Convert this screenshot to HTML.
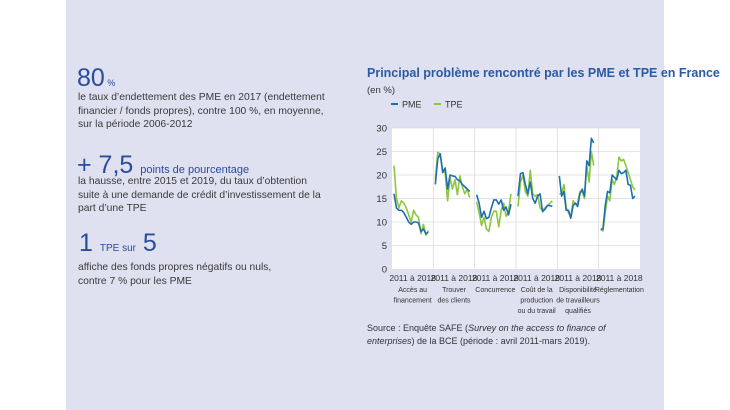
<!DOCTYPE html>
<html><head><meta charset="utf-8">
<style>
html,body{margin:0;padding:0;background:#fff;}
body{width:730px;height:410px;position:relative;overflow:hidden;font-family:"Liberation Sans Narrow","Liberation Sans",sans-serif;}
#panel{position:absolute;left:66px;top:0;width:598px;height:410px;background:#dfe0f0;}
.big{position:absolute;color:#2b4b9b;font-family:"Liberation Sans Narrow","Liberation Sans",sans-serif;white-space:nowrap;}
.body{position:absolute;left:78px;color:#3a3a3a;font-family:"Liberation Sans",sans-serif;font-size:10.3px;line-height:13.6px;white-space:nowrap;}
svg{position:absolute;left:0;top:0;}
</style></head><body>
<div id="panel"></div>
<div class="big" style="left:77px;top:64px;font-size:25px;">80<span style="font-size:9px"> %</span></div>
<div class="body" style="top:91px">le taux d’endettement des PME en 2017 (endettement<br>financier / fonds propres), contre 100 %, en moyenne,<br>sur la période 2006-2012</div>
<div class="big" style="left:77px;top:151px;font-size:25px;">+ 7,5 <span style="font-size:11px">points de pourcentage</span></div>
<div class="body" style="top:175px">la hausse, entre 2015 et 2019, du taux d’obtention<br>suite à une demande de crédit d’investissement de la<br>part d’une TPE</div>
<div class="big" style="left:79px;top:229px;font-size:25px;">1 <span style="font-size:10px">TPE sur</span> 5</div>
<div class="body" style="top:261px">affiche des fonds propres négatifs ou nuls,<br>contre 7 % pour les PME</div>

<svg id="chart" width="730" height="410">
<text x="367" y="77" font-size="12.5" fill="#2b5aa6" font-weight="bold" font-family="Liberation Sans Narrow, Liberation Sans, sans-serif">Principal problème rencontré par les PME et TPE en France</text>
<text x="367" y="93" font-size="9.5" fill="#333">(en %)</text>
<line x1="391" y1="104" x2="398" y2="104" stroke="#1f6fae" stroke-width="2"/>
<text x="402" y="107.5" font-size="9" fill="#333">PME</text>
<line x1="434" y1="104" x2="441" y2="104" stroke="#8cc63f" stroke-width="2"/>
<text x="445" y="107.5" font-size="9" fill="#333">TPE</text>
<rect x="392" y="128" width="248" height="141" fill="#fff"/>
<g id="grid"></g><g id="lines"></g><g id="labels"></g>
<text x="367" y="331" font-size="9" fill="#333" font-family="Liberation Sans, sans-serif">Source : Enquête SAFE (<tspan font-style="italic">Survey on the access to finance of</tspan></text>
<text x="367" y="344" font-size="9" fill="#333" font-family="Liberation Sans, sans-serif"><tspan font-style="italic">enterprises</tspan>) de la BCE (période : avril 2011-mars 2019).</text>
</svg>
<script>
const categories=[["Accès au","financement"],["Trouver","des clients"],["Concurrence"],["Coût de la","production","ou du travail"],["Disponibilité","de travailleurs","qualifiés"],["Réglementation"]];
const yTicks=[0,5,10,15,20,25,30];
const pme=[
[16,13,12.5,12.5,12,11,10,9.5,10,10,9.8,8,8.5,7.5,7.8],
[18,23.5,24.5,20.5,21.5,17,20,19.8,19.7,19,18.8,18,17.5,17,16.5],
[15.8,14,11,12.3,10.7,11,13,14.7,14.7,13.8,14.7,12.5,13.2,11.5,13.8],
[15.5,20.3,20.5,18,16,18.5,15,14,15.5,16,12.2,12.7,13.5,13.5,13.3],
[19.8,15.5,16.5,12.5,12.5,10.8,13.5,14,13.3,16,17,15.5,23,22,27.8,26.8],
[8.5,8.5,13.5,16.5,16.2,20,19.5,19,21,20.3,20.5,21,18,17.8,15,15.5]];
const tpe=[
[22,15,13,14.5,14,13,11.5,10,12.5,11.5,11,7.5,9.5,7.2,8.2],
[19,24.8,24.5,21,20.5,14.5,19.5,17,19,15.8,19.8,17.5,16,17,15.2],
[14.3,12,9.3,11,8.5,8,11,12.3,12.3,9,12.5,14,11.2,12.3,16],
[13.3,18.5,20,16.5,15.5,21,16,15.5,15.8,13,12.5,13,13.5,14,14.5],
[16,16,18,13,12,11,14.5,13.8,14,16.5,16.5,15,22,18.5,25,22],
[8.3,8.1,12,15.5,14.5,19,18,19.5,23.8,23,23.3,22,20.5,19,17.5,16.8]];
const NS="http://www.w3.org/2000/svg";
const X0=392,X1=640,Y0=269,Y1=128,YMAX=30;
const segW=(X1-X0)/categories.length;
function y(v){return Y0-(v/YMAX)*(Y0-Y1);}
function x(seg,i,n){return X0+seg*segW+2+i*(segW-7)/(n-1);}
function mk(tag,attrs,parent){const e=document.createElementNS(NS,tag);for(const k in attrs)e.setAttribute(k,attrs[k]);parent.appendChild(e);return e;}
const grid=document.getElementById('grid'),lines=document.getElementById('lines'),labels=document.getElementById('labels');
yTicks.forEach(t=>{
  if(t>0){const l=mk('line',{x1:X0,x2:X1,y1:y(t),y2:y(t),stroke:'#dcdcdc','stroke-width':0.8},grid);
  
  }
  const tx=mk('text',{x:387,y:y(t)+3.5,'font-size':9.5,fill:'#333','text-anchor':'end'},labels);
  tx.textContent=t;
  
  
});
categories.forEach((c,s)=>{
  if(s>0){const l=mk('line',{x1:X0+s*segW,x2:X0+s*segW,y1:Y1,y2:Y0,stroke:'#dcdcdc','stroke-width':0.8},grid);
  
  }
  const cx=X0+s*segW+segW/2;
  const t=mk('text',{x:cx,y:281,'font-size':8.5,fill:'#333','text-anchor':'middle'},labels);
  t.textContent='2011 à 2018';
  
  
  c.forEach((ln,j)=>{const u=mk('text',{x:cx,y:292+j*10.5,'font-size':7,fill:'#333','text-anchor':'middle'},labels);
    u.textContent=ln;
    
    });
  [[tpe,'#8cc63f','tpe'],[pme,'#1f6fae','pme']].forEach(([d,col,nm])=>{
    const arr=d[s];
    const p=mk('polyline',{points:arr.map((v,i)=>x(s,i,arr.length)+','+y(v)).join(' '),fill:'none',stroke:col,'stroke-width':1.6,'stroke-linejoin':'round'},lines);
    
    
  });
});
</script>
</body></html>
